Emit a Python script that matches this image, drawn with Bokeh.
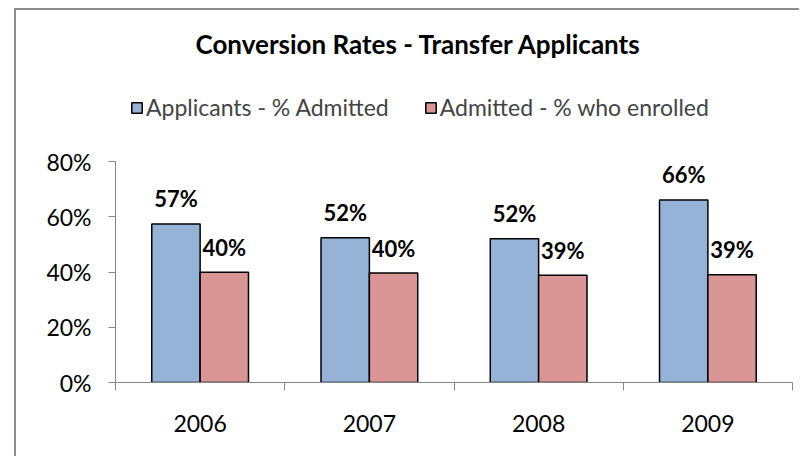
from bokeh.plotting import figure
from bokeh.models import (Range1d, FixedTicker, NumeralTickFormatter, Legend,
                          LegendItem, ColumnDataSource)
from bokeh.core.properties import value
from bokeh.embed import file_html
from bokeh.resources import INLINE

# ---- data ----
years = ["2006", "2007", "2008", "2009"]
admitted = [0.574, 0.524, 0.520, 0.661]
enrolled = [0.399, 0.396, 0.388, 0.390]
admitted_labels = ["57%", "52%", "52%", "66%"]
enrolled_labels = ["40%", "40%", "39%", "39%"]
y_ticks = [0, 0.2, 0.4, 0.6, 0.8]
series_names = ["Applicants - % Admitted", "Admitted - % who enrolled"]
title_text = "Conversion Rates - Transfer Applicants"

BLUE = "#95B3D7"
RED = "#D99694"
AXIS = "#868686"
FONT = "Lato"

# layout (canvas pixels)
FRAME_TOP = 56        # frame extends above the 80% line to hold the legend
AXIS_TOP = 151        # pixel row of the 80% line
AXIS_BOTTOM = 372     # pixel row of 0%
y_end = y_ticks[-1] * (AXIS_BOTTOM - FRAME_TOP) / (AXIS_BOTTOM - AXIS_TOP)

BAR_W = 1 / 3.5
centers = [i + 0.5 for i in range(len(years))]
src_a = ColumnDataSource(dict(x=[c - BAR_W / 2 for c in centers], top=admitted, label=admitted_labels))
src_e = ColumnDataSource(dict(x=[c + BAR_W / 2 for c in centers], top=enrolled, label=enrolled_labels))

p = figure(width=785, height=448, output_backend="svg", toolbar_location=None,
           x_range=Range1d(0, len(years)), y_range=Range1d(0, y_end),
           min_border_left=99, min_border_right=9, min_border_top=FRAME_TOP,
           min_border_bottom=448 - AXIS_BOTTOM, title=title_text)
p.styles = {"border-left": "2px solid #8c8c8c", "border-top": "2px solid #8c8c8c",
            "margin-left": "14px", "margin-top": "8px"}
p.outline_line_color = None
p.xgrid.grid_line_color = None
p.ygrid.grid_line_color = None
p.background_fill_color = "white"
p.border_fill_color = "white"

# title
p.title.text_font = FONT
p.title.text_font_size = "26px"
p.title.text_font_style = "bold"
p.title.text_color = "black"
p.title.align = "left"
p.title.offset = 80
p.title.standoff = 14

# x axis
xa = p.xaxis[0]
xa.ticker = FixedTicker(ticks=centers, minor_ticks=list(range(len(years) + 1)))
xa.major_label_overrides = {c: y for c, y in zip(centers, years)}
xa.major_tick_line_color = None
xa.major_tick_out = 0
xa.major_tick_in = 0
xa.minor_tick_line_color = AXIS
xa.minor_tick_out = 8
xa.minor_tick_in = 0
xa.axis_line_color = AXIS
xa.major_label_standoff = 24
xa.major_label_text_font = FONT
xa.major_label_text_font_size = "23px"
xa.major_label_text_color = "black"

# y axis
ya = p.yaxis[0]
ya.ticker = FixedTicker(ticks=y_ticks)
ya.bounds = (y_ticks[0], y_ticks[-1])
ya.formatter = NumeralTickFormatter(format="0%")
ya.major_tick_line_color = AXIS
ya.major_tick_out = 7
ya.major_tick_in = 0
ya.minor_tick_line_color = None
ya.axis_line_color = AXIS
ya.major_label_standoff = 17
ya.major_label_text_font = FONT
ya.major_label_text_font_size = "23px"
ya.major_label_text_color = "black"

# bars
r1 = p.vbar(x="x", top="top", width=BAR_W, source=src_a, fill_color=BLUE,
            line_color="black", line_width=1.5)
r2 = p.vbar(x="x", top="top", width=BAR_W, source=src_e, fill_color=RED,
            line_color="black", line_width=1.5)

# data labels
for src in (src_a, src_e):
    p.text(x="x", y="top", text="label", source=src, text_font=value(FONT),
           text_font_style="bold", text_font_size="22px", text_align="center",
           text_baseline="alphabetic", y_offset=-25, text_color="black")

legend = Legend(items=[LegendItem(label=series_names[0], renderers=[r1]),
                       LegendItem(label=series_names[1], renderers=[r2])],
                orientation="horizontal", location=(15, AXIS_BOTTOM - 111),
                border_line_color=None, background_fill_alpha=0,
                padding=0, margin=0, spacing=35, label_standoff=3,
                glyph_width=13, glyph_height=13,
                label_text_font=FONT, label_text_font_size="23px")
p.add_layout(legend)

open("out.html", "w").write(file_html(p, INLINE))
